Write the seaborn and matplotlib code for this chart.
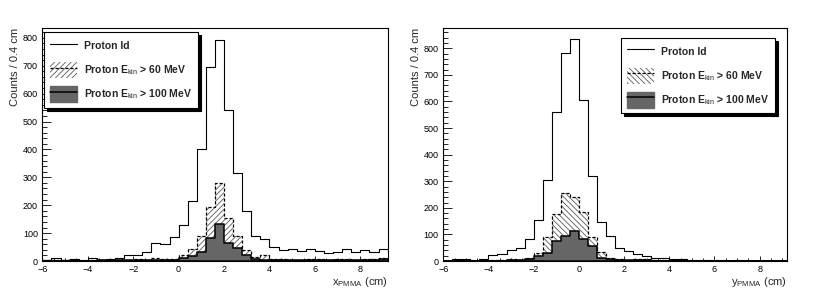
import matplotlib
matplotlib.use("Agg")

import matplotlib.pyplot as plt
import numpy as np
import pandas as pd
import seaborn as sns
from matplotlib.lines import Line2D
from matplotlib.patches import Patch
from matplotlib.ticker import MultipleLocator

# bins: 0.4 cm wide, from -6 to 9.2 cm
bin_lo, bin_hi, bin_w = -6.0, 9.2, 0.4
centers = np.round(np.arange(38) * bin_w + bin_lo + bin_w / 2, 2)

x_all = [2, 10, 4, 6, 3, 10, 5, 8, 12, 20, 22, 32, 66, 60, 85, 130, 216, 400, 697,
         793, 542, 316, 181, 88, 80, 52, 40, 42, 35, 42, 36, 30, 33, 42, 34, 38, 34, 42]
x_60 = [2, 3, 2, 3, 1, 3, 4, 3, 5, 4, 6, 5, 10, 9, 6, 22, 42, 90, 195,
        280, 156, 88, 40, 16, 22, 9, 6, 5, 4, 6, 8, 5, 7, 6, 4, 7, 8, 12]
x_100 = [1, 1, 1, 2, 1, 1, 2, 1, 2, 2, 2, 3, 4, 3, 4, 12, 17, 32, 84,
         134, 63, 45, 20, 8, 5, 4, 3, 2, 3, 2, 4, 3, 2, 3, 2, 3, 4, 6]

y_all = [2, 9, 8, 5, 8, 21, 25, 41, 48, 81, 154, 304, 560, 783, 834, 607, 320, 148, 94,
         48, 38, 26, 20, 12, 12, 8, 6, 5, 4, 5, 3, 2, 3, 2, 2, 1, 2, 1]
y_60 = [1, 3, 4, 2, 3, 4, 3, 8, 5, 10, 31, 89, 175, 256, 241, 185, 91, 35, 12,
        6, 5, 8, 6, 4, 3, 2, 2, 2, 1, 2, 1, 1, 1, 0, 1, 1, 0, 1]
y_100 = [0, 1, 2, 1, 2, 2, 1, 5, 3, 6, 19, 32, 77, 95, 112, 82, 55, 10, 8,
         4, 3, 3, 4, 2, 2, 1, 1, 1, 1, 0, 1, 0, 1, 0, 0, 1, 0, 0]

legend_labels = ["Proton Id",
                 r"Proton E$_{\mathrm{kin}}$ > 60 MeV",
                 r"Proton E$_{\mathrm{kin}}$ > 100 MeV"]

sns.set_style("white")
plt.rcParams["font.family"] = ["Liberation Sans", "DejaVu Sans"]
plt.rcParams["mathtext.fontset"] = "custom"
plt.rcParams["mathtext.rm"] = "Liberation Sans"
plt.rcParams["mathtext.it"] = "Liberation Sans"
plt.rcParams["hatch.linewidth"] = 0.6

fig = plt.figure(figsize=(8.3, 2.92), dpi=100)
ax_l = fig.add_axes([0.051, 0.106, 0.416, 0.799])
ax_r = fig.add_axes([0.534, 0.106, 0.414, 0.799])

DASH = (0, (2.5, 1.5))


def hist(ax, counts, **kws):
    df = pd.DataFrame({"pos": centers, "n": np.asarray(counts, dtype=float)})
    sns.histplot(data=df, x="pos", weights="n", binwidth=bin_w,
                 binrange=(bin_lo, bin_hi), element="step", ax=ax, **kws)


def draw_panel(ax, v_all, v_60, v_100, hatch, ymax, xlabel, legend_xy):
    # hatched fill + dashed outline for Ekin > 60 MeV
    hist(ax, v_60, fill=True, facecolor="white", edgecolor="0.35", linewidth=0,
         hatch=hatch, alpha=1)
    hist(ax, v_60, fill=False, color="black", linestyle=DASH, linewidth=0.9)
    # dark fill for Ekin > 100 MeV
    hist(ax, v_100, fill=True, facecolor="#666666", edgecolor="black",
         linewidth=1.1, alpha=1)
    # all identified protons
    hist(ax, v_all, fill=False, color="black", linewidth=0.8)

    ax.set_xlim(bin_lo, bin_hi)
    ax.set_ylim(0, ymax)
    ax.xaxis.set_major_locator(MultipleLocator(2))
    ax.xaxis.set_minor_locator(MultipleLocator(0.5))
    ax.yaxis.set_major_locator(MultipleLocator(100))
    ax.yaxis.set_minor_locator(MultipleLocator(20))
    ax.tick_params(which="both", direction="in", bottom=True, left=True,
                   top=False, right=False, labelsize=6.5, colors="black", width=0.6)
    ax.tick_params(axis="x", which="major", length=3.8, pad=2.8)
    ax.tick_params(axis="x", which="minor", length=1.9)
    ax.tick_params(axis="y", which="major", length=6.5, pad=3.2)
    ax.tick_params(axis="y", which="minor", length=3.3)
    for sp in ax.spines.values():
        sp.set_color("black")
        sp.set_linewidth(0.8)

    ax.set_xlabel(xlabel, fontsize=8, loc="right", labelpad=1)
    ax.set_ylabel("Counts / 0.4 cm", fontsize=8, loc="top", labelpad=2)

    handles = [
        Line2D([], [], color="black", linewidth=0.8),
        (Patch(facecolor="white", edgecolor="0.35", linewidth=0, hatch=hatch),
         Line2D([], [], color="black", linestyle=DASH, linewidth=0.9)),
        (Patch(facecolor="#666666", edgecolor="#666666"),
         Line2D([], [], color="black", linewidth=1.1)),
    ]
    leg = ax.legend(handles, legend_labels, loc="upper left", bbox_to_anchor=legend_xy,
                    borderaxespad=0, fancybox=False, frameon=True, framealpha=1,
                    edgecolor="black", handlelength=2.6, handleheight=2.0,
                    labelspacing=0.75, borderpad=0.55, handletextpad=0.7,
                    prop={"size": 7.5, "weight": "bold"},
                    shadow={"color": "black", "alpha": 1})
    leg.get_frame().set_linewidth(0.8)


draw_panel(ax_l, x_all, x_60, x_100, "//////", 836,
           r"x$_{\mathrm{PMMA}}$ (cm)", (0.005, 0.98))
draw_panel(ax_r, y_all, y_60, y_100, "\\\\\\\\\\\\", 877,
           r"y$_{\mathrm{PMMA}}$ (cm)", (0.517, 0.956))

fig.savefig("out.png", dpi=100)
